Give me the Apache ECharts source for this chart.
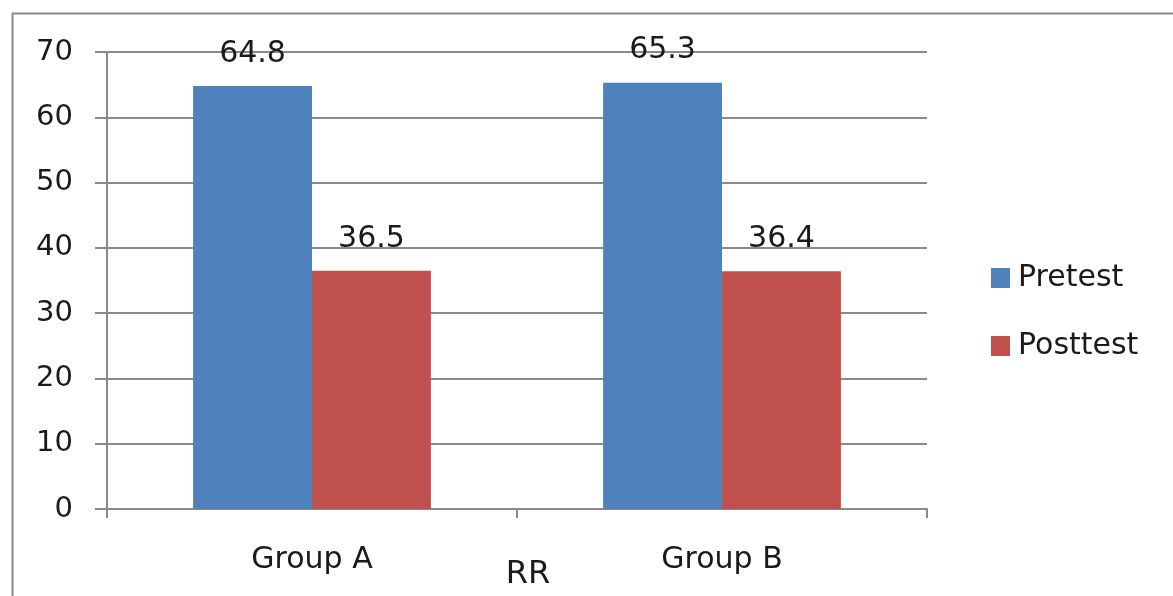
<!DOCTYPE html>
<html>
<head>
<meta charset="utf-8">
<script src="https://cdn.jsdelivr.net/npm/echarts@6/dist/echarts.min.js"></script>
<style>
html,body{margin:0;padding:0;background:#fff;}
#main{width:1173px;height:596px;}
</style>
</head>
<body>
<div id="main"></div>
<script>
var categories = ['Group A', 'Group B'];
var pretest = [64.8, 65.3];
var posttest = [36.5, 36.4];
var seriesNames = ['Pretest', 'Posttest'];
var axisName = 'RR';

var FONT = 'DejaVu Sans';
var gridColor = '#8a8a8a';
var chart = echarts.init(document.getElementById('main'), null, {renderer: 'canvas'});
var labelStyle = {show: true, position: 'top', distance: 17, fontFamily: FONT, fontSize: 30, color: '#1a1a1a'};
chart.setOption({
  animation: false,
  graphic: [{
    type: 'rect', left: 10, top: 11, shape: {width: 1200, height: 620},
    style: {fill: 'none', stroke: '#8a8a8a', lineWidth: 2}, silent: true
  }],
  grid: {left: 107, right: 246, top: 52, bottom: 87, outerBoundsMode: 'none', containLabel: false},
  legend: {
    orient: 'vertical', left: 986, top: 258,
    itemWidth: 19, itemHeight: 20, itemGap: 38,
    icon: 'rect',
    textStyle: {fontFamily: FONT, fontSize: 30, color: '#1a1a1a', padding: [0, 0, 0, 3]},
    data: seriesNames
  },
  xAxis: {
    type: 'category', data: categories,
    name: axisName, nameLocation: 'middle', nameGap: 50, nameMoveOverlap: false,
    nameTextStyle: {fontFamily: FONT, fontSize: 32, color: '#1a1a1a', padding: [0, 0, 0, 22]},
    axisLine: {lineStyle: {color: gridColor, width: 2}},
    axisTick: {show: true, length: 9, lineStyle: {color: gridColor, width: 2}},
    axisLabel: {margin: 36, fontFamily: FONT, fontSize: 30, color: '#1a1a1a'}
  },
  yAxis: {
    type: 'value', min: 0, max: 70, interval: 10,
    axisLine: {show: true, lineStyle: {color: gridColor, width: 2}},
    axisTick: {show: true, length: 12, lineStyle: {color: gridColor, width: 2}},
    axisLabel: {margin: 34, fontFamily: FONT, fontSize: 29, color: '#1a1a1a'},
    splitLine: {lineStyle: {color: gridColor, width: 2}}
  },
  series: [
    {name: seriesNames[0], type: 'bar', data: pretest, barGap: '0%', barCategoryGap: '42%',
     itemStyle: {color: '#4F81BD'}, label: labelStyle},
    {name: seriesNames[1], type: 'bar', data: posttest, barGap: '0%', barCategoryGap: '42%',
     itemStyle: {color: '#C0504D'}, label: labelStyle}
  ]
});
</script>
</body>
</html>
